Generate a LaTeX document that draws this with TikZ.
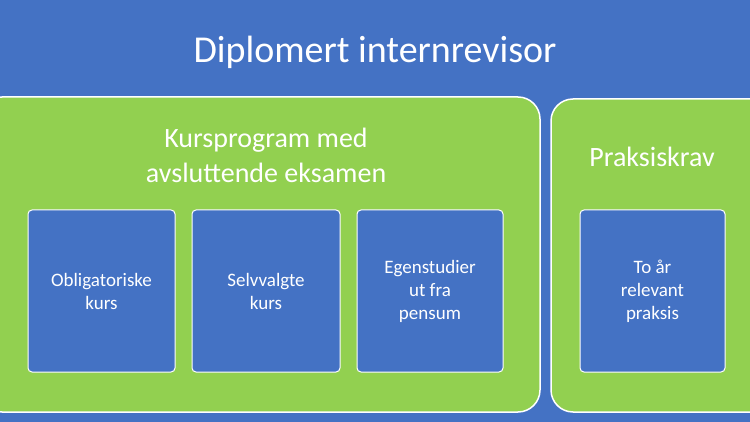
\documentclass[tikz,border=0pt]{standalone}
\usepackage{fontspec}
\setmainfont{Carlito}
\definecolor{bg}{HTML}{4472C4}
\definecolor{gr}{HTML}{92D050}
\tikzset{
 outer/.style={draw=white,line width=1.5pt,fill=gr,rounded corners=22pt},
 inner/.style={draw=white,line width=1pt,fill=bg,rounded corners=4pt},
 lab/.style={text=white,align=center,font=\fontsize{19}{23}\selectfont},
 big/.style={text=white,align=center,font=\fontsize{28}{35}\selectfont}
}
\begin{document}
\begin{tikzpicture}[x=1pt,y=-1pt]
\clip (0,0) rectangle (750,422);
\fill[bg] (0,0) rectangle (750,422);
\node[text=white,font=\fontsize{38}{44}\selectfont] (title) at (375,52) {Diplomert internrevisor};
\draw[outer] (-20,97) rectangle (540,412);
\draw[outer] (551,99) rectangle (775,412);
\node[big] (kp) at (266,155) {Kursprogram med\\avsluttende eksamen};
\node[big] (pk) at (652,157) {Praksiskrav};
\draw[inner] (28,210) rectangle (175,372);
\draw[inner] (192,210) rectangle (340,372);
\draw[inner] (357,210) rectangle (503,372);
\draw[inner] (580,210) rectangle (725,372);
\node[lab] (a) at (101.5,291) {Obligatoriske\\kurs};
\node[lab] (b) at (266,291) {Selvvalgte\\kurs};
\node[lab] (c) at (430,291) {Egenstudier\\ut fra\\pensum};
\node[lab] (d) at (652.5,291) {To år\\relevant\\praksis};
\end{tikzpicture}
\end{document}
